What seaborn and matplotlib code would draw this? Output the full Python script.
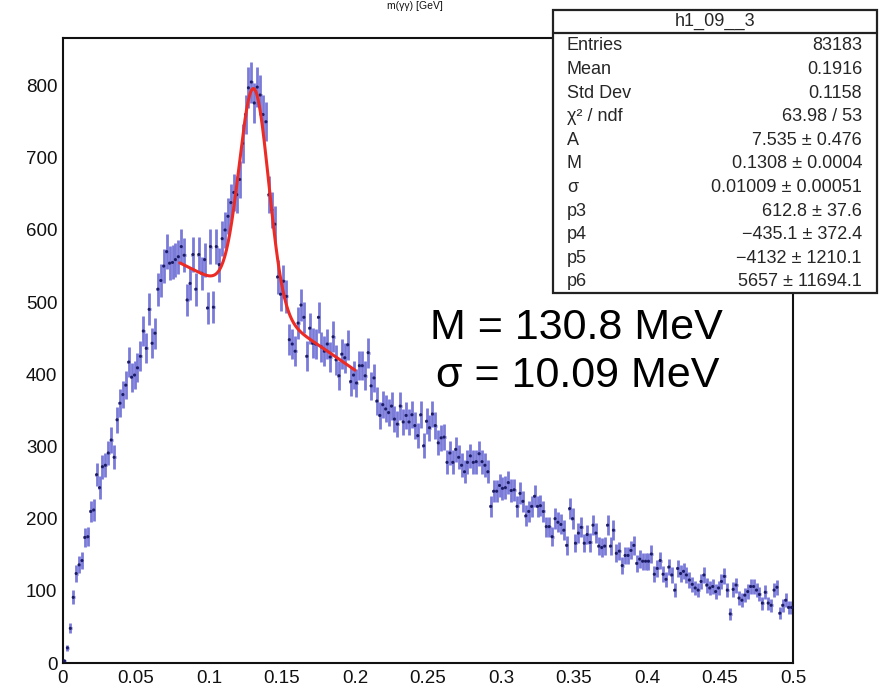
import numpy as np
import pandas as pd
import matplotlib
matplotlib.use("Agg")
import matplotlib.pyplot as plt
import seaborn as sns
from matplotlib.patches import Rectangle
from matplotlib.lines import Line2D
from matplotlib.ticker import MultipleLocator, FuncFormatter

# Histogram h1_09__3: 250 bins of width 0.002 GeV between 0 and 0.5
hist_name = "h1_09__3"
bin_low = 0.0
bin_width = 0.002
counts = [
    3, 21, 48, 91, 124, 136, 142, 174, 175, 210,
    212, 261, 243, 272, 274, 291, 309, 285, 337, 360,
    372, 385, 417, 396, 399, 409, 425, 460, 436, 490,
    443, 457, 518, 530, 550, 570, 554, 555, 559, 563,
    577, 565, 503, 526, 566, 518, 566, 540, 559, 492,
    577, 493, 577, 552, 588, 600, 619, 638, 652, 649,
    670, 720, 760, 797, 805, 776, 798, 787, 760, 750,
    649, 628, 608, 535, 511, 529, 508, 448, 442, 432,
    471, 496, 479, 425, 464, 443, 442, 479, 438, 432,
    442, 424, 452, 420, 398, 428, 423, 441, 390, 399,
    388, 412, 412, 398, 430, 384, 395, 363, 343, 358,
    352, 347, 356, 338, 331, 356, 334, 343, 334, 344,
    329, 315, 344, 301, 335, 326, 345, 329, 305, 312,
    313, 278, 291, 278, 296, 285, 274, 265, 278, 287,
    278, 279, 290, 279, 274, 265, 217, 238, 238, 246,
    242, 243, 250, 239, 240, 217, 235, 224, 204, 210,
    217, 231, 217, 218, 210, 189, 189, 175, 200, 195,
    192, 184, 163, 214, 200, 166, 180, 188, 166, 178,
    167, 191, 180, 162, 160, 162, 191, 162, 184, 152,
    155, 135, 149, 149, 156, 163, 138, 144, 141, 141,
    141, 151, 123, 131, 142, 123, 116, 133, 122, 101,
    131, 124, 127, 122, 115, 109, 104, 101, 113, 122,
    108, 104, 106, 99, 104, 113, 120, 101, 68, 102,
    108, 90, 87, 94, 99, 106, 106, 101, 95, 83,
    98, 83, 80, 101, 105, 69, 80, 87, 77, 77,
]

# Fit: Gaussian peak on a cubic background, fitted over [0.08, 0.2]
fit_range = (0.08, 0.2)
fit_A, fit_M, fit_sigma = 7.535, 0.1308, 0.01009
fit_p3, fit_p4, fit_p5, fit_p6 = 612.8, -435.1, -4132.0, 5657.0

# Statistics panel rows
stat_labels = ["Entries", "Mean", "Std Dev", "χ² / ndf", "A", "M", "σ",
               "p3", "p4", "p5", "p6"]
stat_values = ["83183", "0.1916", "0.1158", "63.98 / 53",
               "7.535 ± 0.476", "0.1308 ± 0.0004", "0.01009 ± 0.00051",
               "612.8 ± 37.6", "−435.1 ± 372.4", "−4132 ± 1210.1",
               "5657 ± 11694.1"]

peak_text = ["M = 130.8 MeV", "σ = 10.09 MeV"]

sns.set_style("white")
plt.rcParams["font.family"] = ["Liberation Sans", "DejaVu Sans"]

W, H = 883, 696
fig = plt.figure(figsize=(W / 100, H / 100), dpi=100)


def fx(px):
    return px / W


def fy(py):
    return 1 - py / H


ax = fig.add_axes([fx(63), fy(663), fx(793) - fx(63), fy(38) - fy(663)])

n = len(counts)
centers = bin_low + bin_width * (np.arange(n) + 0.5)
df = pd.DataFrame({"x": centers, "count": counts})
df["err"] = np.sqrt(df["count"])

ax.errorbar(df["x"], df["count"], yerr=df["err"], xerr=bin_width / 2,
            fmt="none", ecolor="#7a7ad8", elinewidth=2.0, capsize=0,
            zorder=2)
sns.scatterplot(data=df, x="x", y="count", ax=ax, s=5, color="#1c1c66",
                edgecolor="none", zorder=3, legend=False)


def fit_function(x):
    gauss = fit_A / (np.sqrt(2 * np.pi) * fit_sigma) * \
        np.exp(-0.5 * ((x - fit_M) / fit_sigma) ** 2)
    return gauss + fit_p3 + fit_p4 * x + fit_p5 * x ** 2 + fit_p6 * x ** 3


xf = np.linspace(fit_range[0], fit_range[1], 200)
fit_df = pd.DataFrame({"x": xf, "y": fit_function(xf)})
sns.lineplot(data=fit_df, x="x", y="y", ax=ax, color="#ec2b24", lw=2.2,
             zorder=4, legend=False)

ax.set_xlim(0, 0.5)
ax.set_ylim(0, 866)
ax.set_xlabel("")
ax.set_ylabel("")
ax.xaxis.set_major_locator(MultipleLocator(0.05))
ax.xaxis.set_minor_locator(MultipleLocator(0.01))
ax.yaxis.set_major_locator(MultipleLocator(100))
ax.yaxis.set_minor_locator(MultipleLocator(20))
ax.xaxis.set_major_formatter(FuncFormatter(lambda v, p: f"{v:g}"))
ax.yaxis.set_major_formatter(FuncFormatter(lambda v, p: f"{v:g}"))
ax.tick_params(axis="x", which="major", direction="in", length=13, width=1.2,
               color="#444444", labelsize=13.5, pad=5, labelcolor="#111111")
ax.tick_params(axis="x", which="minor", direction="in", length=6, width=1.2,
               color="#444444")
ax.tick_params(axis="y", which="major", direction="in", length=16, width=1.2,
               color="#444444", labelsize=13.5, pad=4, labelcolor="#111111")
ax.tick_params(axis="y", which="minor", direction="in", length=8, width=1.2,
               color="#444444")
for s in ax.spines.values():
    s.set_color("#111111")
    s.set_linewidth(1.5)
    s.set_visible(True)

# Peak annotation
fig.text(fx(430), fy(328), peak_text[0], fontsize=31, va="center", ha="left",
         color="black")
fig.text(fx(436), fy(376), peak_text[1], fontsize=31, va="center", ha="left",
         color="black")

# Small title at the top edge
fig.text(fx(415), fy(1), "m(γγ) [GeV]", fontsize=7.5, ha="center",
         va="top", color="#111111")

# Statistics panel
box_l, box_r, box_t, box_b = 553, 877, 10, 293
fig.add_artist(Rectangle((fx(box_l), fy(box_b)), fx(box_r) - fx(box_l),
                         fy(box_t) - fy(box_b), transform=fig.transFigure,
                         facecolor="white", edgecolor="#222222", lw=1.6,
                         zorder=5))
fig.add_artist(Line2D([fx(box_l), fx(box_r)], [fy(33), fy(33)],
                      transform=fig.transFigure, color="#222222", lw=1.6,
                      zorder=6))
fig.text(fx((box_l + box_r) / 2), fy(21), hist_name, fontsize=13,
         ha="center", va="center", zorder=7)
row_y = np.linspace(46, 282, len(stat_labels))
for yy, lab, val in zip(row_y, stat_labels, stat_values):
    fig.text(fx(567), fy(yy), lab, fontsize=13, ha="left", va="center",
             zorder=7)
    fig.text(fx(862), fy(yy), val, fontsize=13, ha="right", va="center",
             zorder=7)

fig.savefig("out.png", dpi=100)
